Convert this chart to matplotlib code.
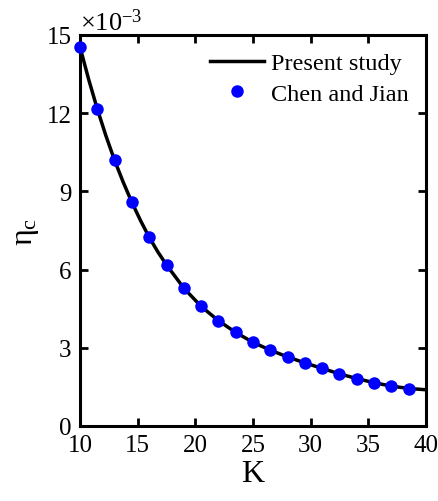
import numpy as np
import matplotlib.pyplot as plt

plt.rcParams['font.family'] = ['Liberation Serif', 'DejaVu Serif']
plt.rcParams['mathtext.fontset'] = 'custom'
plt.rcParams['mathtext.rm'] = 'Liberation Serif'
plt.rcParams['mathtext.it'] = 'Liberation Serif:italic'

# critical value eta_c (x 1e-3) against K
K_ref = [10, 11.5, 13, 14.5, 16, 17.5, 19, 20.5, 22, 23.5,
         25, 26.5, 28, 29.5, 31, 32.5, 34, 35.5, 37, 38.5]
eta_ref = [14.54, 12.16, 10.19, 8.58, 7.24, 6.18, 5.29, 4.59, 4.04, 3.59,
           3.21, 2.93, 2.65, 2.42, 2.21, 1.99, 1.81, 1.65, 1.53, 1.43]

K_line = [10, 10.75, 11.5, 12.25, 13, 13.75, 14.5, 15.25, 16, 16.75, 17.5,
          19, 20.5, 22, 23.5, 25, 26.5, 28, 29.5, 31, 32.5, 34, 35.5, 37,
          38.5, 40]
eta_line = [14.54, 13.30, 12.16, 11.13, 10.19, 9.35, 8.58, 7.88, 7.24, 6.68,
            6.18, 5.29, 4.59, 4.04, 3.59, 3.21, 2.91, 2.65, 2.42, 2.21, 2.00,
            1.82, 1.66, 1.53, 1.44, 1.39]

fig = plt.figure(figsize=(4.39, 5.02), dpi=100)
ax = fig.add_axes([80 / 439, 1 - 427 / 502, 346 / 439, 391 / 502])

ax.plot(K_line, eta_line, color='black', lw=2.5, label='Present study',
        zorder=2)
ax.plot(K_ref, eta_ref, 'o', color='#0000ff', ms=9, mec='none',
        label='Chen and Jian', zorder=3, clip_on=False)

ax.set_xlim(10, 40)
ax.set_ylim(0, 15)
ax.set_xticks(np.arange(10, 41, 5))
ax.set_yticks(np.arange(0, 16, 3))
ax.tick_params(direction='in', top=True, right=True, length=6, width=2,
               labelsize=18, pad=6)
for s in ax.spines.values():
    s.set_linewidth(2.2)

ax.set_xlabel('K', fontsize=23, labelpad=2)
ax.set_ylabel(r'$\mathrm{\eta_c}$', fontsize=23, labelpad=4)
ax.text(0.0, 1.0, r'$\times\mathrm{10^{-3}}$', transform=ax.transAxes,
        fontsize=19, ha='left', va='bottom')

ax.legend(loc='upper right', frameon=False, fontsize=17.5, handlelength=2.2,
          handletextpad=0.3, borderaxespad=0.3, labelspacing=0.35)

fig.savefig('out.png', dpi=100)
